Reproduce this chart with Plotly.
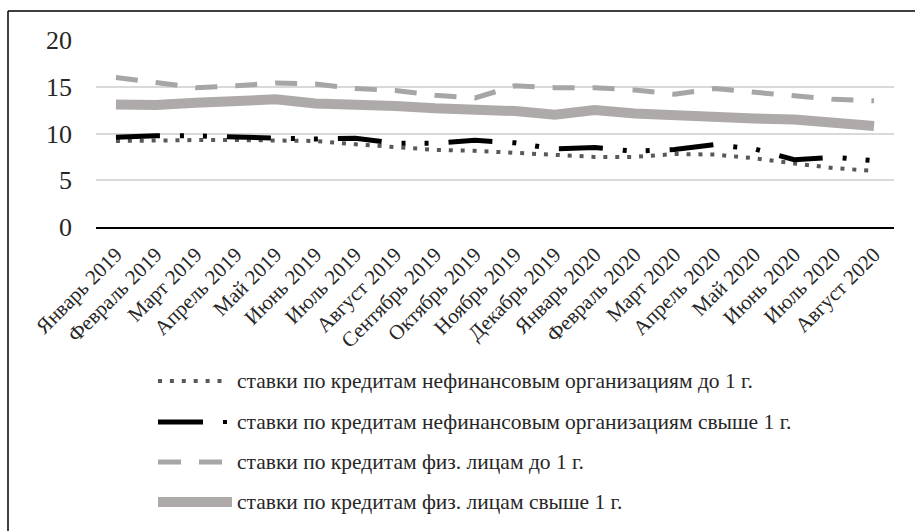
import plotly.graph_objects as go

# Months on the category axis
months = [
    "Январь 2019", "Февраль 2019", "Март 2019", "Апрель 2019", "Май 2019",
    "Июнь 2019", "Июль 2019", "Август 2019", "Сентябрь 2019", "Октябрь 2019",
    "Ноябрь 2019", "Декабрь 2019", "Январь 2020", "Февраль 2020", "Март 2020",
    "Апрель 2020", "Май 2020", "Июнь 2020", "Июль 2020", "Август 2020",
]

# Interest rates, %
org_short = [9.2, 9.3, 9.3, 9.3, 9.3, 9.2, 8.85, 8.6, 8.25, 8.15,
             7.95, 7.8, 7.5, 7.5, 7.8, 7.75, 7.35, 6.8, 6.3, 6.0]
org_long = [9.6, 9.75, 9.75, 9.65, 9.6, 9.4, 9.5, 8.95, 8.95, 9.27,
            9.0, 8.35, 8.5, 8.1, 8.3, 8.8, 8.35, 7.2, 7.45, 7.1]
ind_short = [16.0, 15.5, 14.9, 15.1, 15.4, 15.3, 14.8, 14.6, 14.1, 13.8,
             15.1, 14.9, 14.9, 14.65, 14.2, 14.8, 14.4, 13.95, 13.65, 13.5]
ind_long = [13.1, 13.05, 13.3, 13.4, 13.65, 13.2, 13.2, 12.95, 12.7, 12.6,
            12.4, 12.0, 12.5, 12.15, 11.9, 11.8, 11.6, 11.5, 11.05, 10.8]

names = [
    "ставки по кредитам нефинансовым организациям до 1 г.",
    "ставки по кредитам нефинансовым организациям свыше 1 г.",
    "ставки по кредитам физ. лицам до 1 г.",
    "ставки по кредитам физ. лицам свыше 1 г.",
]

FONT = "Times New Roman, Liberation Serif, Tinos, serif"
W, H = 915, 531
ML, MR, MT, MB = 96, 21, 40, 304
PW, PH = W - ML - MR, H - MT - MB

styles = [
    dict(color="#595959", width=4, dash="4px,7.9px"),
    dict(color="#000000", width=5, dash="44px,20px,4px,19px,4px,20px"),
    dict(color="#a6a6a6", width=5, dash="22px,18px"),
    dict(color="#aeaaaa", width=10, dash="solid"),
]
series = [org_short, org_long, ind_short, ind_long]

fig = go.Figure()
# draw the thick solid line first so the others sit on top
for idx in [3, 2, 0, 1]:
    fig.add_trace(go.Scatter(
        x=months, y=series[idx], mode="lines", name=names[idx],
        line=styles[idx], showlegend=False, hoverinfo="skip",
    ))


def px_x(px):
    return (px - ML) / PW


def px_y(py):
    return (H - MB - py) / PH


shapes = []
annotations = []
# outer frame (only its left and top edges fall inside the page)
shapes.append(dict(type="line", xref="paper", yref="paper",
                   x0=px_x(8), x1=px_x(8), y0=px_y(560), y1=px_y(11),
                   line=dict(color="black", width=1.5)))
shapes.append(dict(type="line", xref="paper", yref="paper",
                   x0=px_x(8), x1=px_x(940), y0=px_y(11), y1=px_y(11),
                   line=dict(color="black", width=1.5)))

# legend block
leg_rows = [381, 422, 462, 502]
leg_segments = [
    [(158, 224, styles[0])],
    [(158, 203, dict(color="#000000", width=5, dash="solid")),
     (223, 227, dict(color="#000000", width=4, dash="solid"))],
    [(158, 222, dict(color="#a6a6a6", width=5, dash="23px,18px"))],
    [(158, 232, dict(color="#aeaaaa", width=10, dash="solid"))],
]
for row, segs, name in zip(leg_rows, leg_segments, names):
    for x0, x1, st in segs:
        shapes.append(dict(type="line", xref="paper", yref="paper",
                           x0=px_x(x0), x1=px_x(x1), y0=px_y(row), y1=px_y(row),
                           line=st))
    annotations.append(dict(xref="paper", yref="paper", x=px_x(235), y=px_y(row),
                            xanchor="left", yanchor="middle", showarrow=False,
                            text=name, font=dict(family=FONT, size=21.5, color="#262626")))

fig.update_layout(
    width=W, height=H,
    margin=dict(l=ML, r=MR, t=MT, b=MB),
    paper_bgcolor="white", plot_bgcolor="white",
    font=dict(family=FONT, color="#262626"),
    shapes=shapes, annotations=annotations,
    xaxis=dict(
        type="category", range=[-0.5, 19.5], tickangle=-45,
        tickfont=dict(family=FONT, size=21, color="#262626"),
        showgrid=False, showline=True, linecolor="black", linewidth=2,
        ticks="", ticklabelstandoff=5, fixedrange=True,
    ),
    yaxis=dict(
        range=[0, 20], tickvals=[0, 5, 10, 15, 20],
        tickfont=dict(family=FONT, size=26, color="#262626"),
        showgrid=True, gridcolor="#d9d9d9", gridwidth=1.5,
        zeroline=False, showline=False, ticks="", ticklabelstandoff=23,
        fixedrange=True,
    ),
)

fig.write_html("out.html")
